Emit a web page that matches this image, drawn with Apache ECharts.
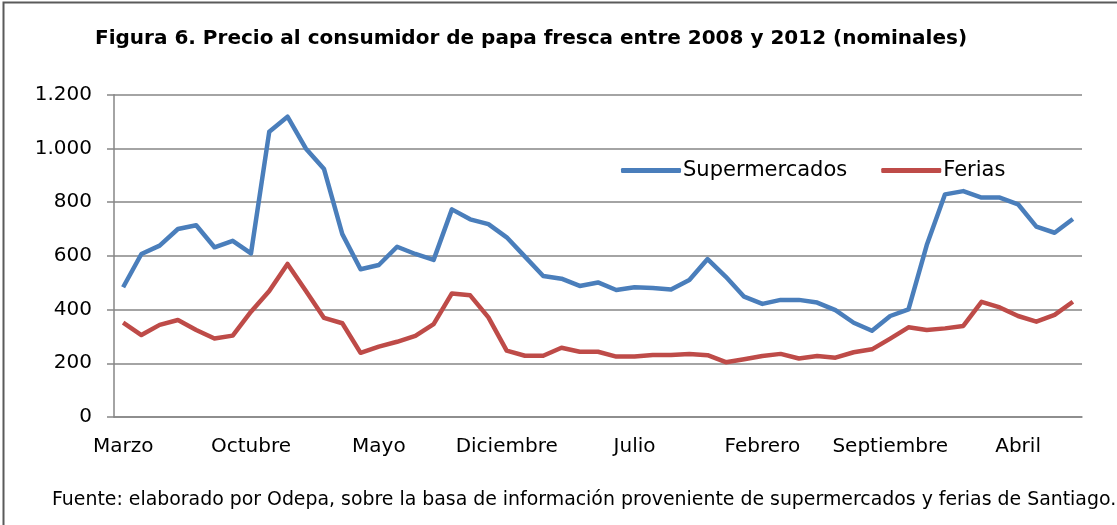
<!DOCTYPE html>
<html>
<head>
<meta charset="utf-8">
<script src="https://cdn.jsdelivr.net/npm/echarts@6/dist/echarts.min.js"></script>
<style>
  html, body { margin: 0; padding: 0; background: #fff; }
  #chart { width: 1117px; height: 525px; }
</style>
</head>
<body>
<div id="chart"></div>
<script>
// meses desde marzo 2008 hasta julio 2012
const mesesNombres = ['Enero','Febrero','Marzo','Abril','Mayo','Junio','Julio','Agosto','Septiembre','Octubre','Noviembre','Diciembre'];
const months = [];
for (let i = 0; i < 53; i++) {
  months.push(mesesNombres[(2 + i) % 12]);
}

const supermercados = [
  483, 607, 638, 700, 714, 632, 656, 609, 1062, 1118,
  1000, 923, 681, 550, 566, 634, 607, 585, 773, 736,
  718, 669, 597, 525, 515, 488, 501, 473, 483, 480,
  475, 510, 588, 522, 448, 421, 436, 436, 426, 398,
  351, 321, 376, 401, 640, 829, 841, 817, 817, 792,
  709, 686, 737
];
const ferias = [
  351, 305, 343, 361, 324, 292, 303, 392, 469, 570,
  470, 369, 349, 239, 262, 280, 302, 346, 460, 453,
  371, 247, 228, 228, 258, 243, 243, 225, 225, 231,
  231, 235, 230, 204, 215, 227, 235, 218, 227, 221,
  241, 252, 292, 334, 324, 330, 339, 429, 408, 376,
  355, 380, 429
];
const yTicks = [0, 200, 400, 600, 800, 1000, 1200];

const titulo = 'Figura 6. Precio al consumidor de papa fresca entre 2008 y 2012 (nominales)';
const fuente = 'Fuente: elaborado por Odepa, sobre la basa de información proveniente de supermercados y ferias de Santiago.';

const myChart = echarts.init(document.getElementById('chart'));
const gris = '#868686';
const fontFam = '"DejaVu Sans", "Liberation Sans", Arial, sans-serif';

myChart.setOption({
  animation: false,
  textStyle: { fontFamily: fontFam },
  title: {
    text: titulo,
    left: 90,
    top: 24,
    textStyle: { fontSize: 20, fontWeight: 'bold', color: '#000', fontFamily: fontFam }
  },
  graphic: [
    {
      type: 'rect',
      shape: { x: 3.5, y: 2.5, width: 1130, height: 540 },
      style: { fill: 'none', stroke: '#5a5a5a', lineWidth: 2 },
      silent: true
    },
    {
      type: 'text',
      left: 52,
      top: 491,
      style: { text: fuente, fontSize: 18.9, fill: '#000', fontFamily: fontFam }
    }
  ],
  legend: {
    left: 616,
    top: 155,
    icon: 'roundRect',
    itemWidth: 60,
    itemHeight: 5,
    itemGap: 34,
    textStyle: { fontSize: 21, color: '#000', fontFamily: fontFam, padding: [0, 0, 0, -3] },
    data: ['Supermercados', 'Ferias']
  },
  grid: {
    left: 114,
    right: 35,
    top: 94.7,
    bottom: 108
  },
  xAxis: {
    type: 'category',
    data: months,
    boundaryGap: true,
    axisLine: { lineStyle: { color: gris, width: 1.5 } },
    axisTick: { interval: 0, length: 7, lineStyle: { color: gris, width: 1.5 } },
    axisLabel: {
      interval: 6,
      fontSize: 20,
      color: '#000',
      margin: 20,
      fontFamily: fontFam
    },
    splitLine: { show: false }
  },
  yAxis: {
    type: 'value',
    min: yTicks[0],
    max: yTicks[yTicks.length - 1],
    interval: 200,
    axisLine: { show: true, lineStyle: { color: gris, width: 1.5 } },
    axisTick: { show: true, length: 7, lineStyle: { color: gris, width: 1.5 } },
    axisLabel: {
      fontSize: 20,
      color: '#000',
      margin: 22,
      fontFamily: fontFam,
      formatter: function (v) {
        return String(v).replace(/\B(?=(\d{3})+(?!\d))/g, '.');
      }
    },
    splitLine: { lineStyle: { color: gris, width: 1.5 } }
  },
  series: [
    {
      name: 'Supermercados',
      type: 'line',
      data: supermercados,
      showSymbol: false,
      symbol: 'none',
      lineStyle: { color: '#4a7ebb', width: 4.5, join: 'round' },
      itemStyle: { color: '#4a7ebb' }
    },
    {
      name: 'Ferias',
      type: 'line',
      data: ferias,
      showSymbol: false,
      symbol: 'none',
      lineStyle: { color: '#be4b48', width: 4.5, join: 'round' },
      itemStyle: { color: '#be4b48' }
    }
  ]
});
</script>
</body>
</html>
